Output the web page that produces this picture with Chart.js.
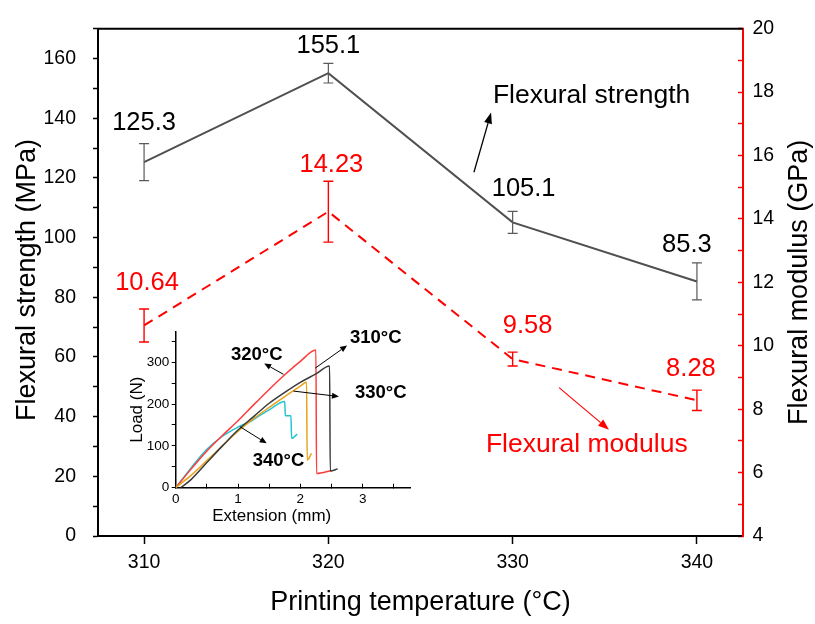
<!DOCTYPE html>
<html>
<head>
<meta charset="utf-8">
<script src="https://cdn.jsdelivr.net/npm/chart.js@4.4.1/dist/chart.umd.min.js"></script>
<style>
  html, body { margin: 0; padding: 0; background: #fff; }
  #wrap { position: relative; width: 815px; height: 624px; }
  #mainChart { position: absolute; left: 0; top: 0; }
  #insetChart { position: absolute; left: 120px; top: 320px; }
</style>
</head>
<body>
<div id="wrap">
  <canvas id="mainChart" width="815" height="624"></canvas>
  <canvas id="insetChart" width="300" height="215"></canvas>
</div>
<script>
// main chart data
const temps = [310, 320, 330, 340];
const strength = [125.3, 155.1, 105.1, 85.3];
const strengthErr = [6.2, 3.3, 3.7, 6.2];
const modulus = [10.64, 14.23, 9.58, 8.28];
const modulusErr = [0.52, 0.96, 0.22, 0.32];

// inset: load-extension curves
const ext310 = [0.08, 0.25, 0.5, 0.75, 1.0, 1.25, 1.5, 1.75, 2.0, 2.25, 2.47, 2.48, 2.6];
const load310 = [0, 20, 60, 100, 138, 170, 202, 228, 252, 272, 291, 40, 45];
const ext320 = [0, 0.25, 0.5, 0.75, 1.0, 1.25, 1.5, 1.75, 2.0, 2.25, 2.26, 2.5];
const load320 = [0, 45, 88, 125, 160, 198, 235, 270, 302, 329, 34, 41];
const ext330 = [0, 0.25, 0.5, 0.75, 1.0, 1.25, 1.5, 1.75, 2.0, 2.1, 2.11, 2.18];
const load330 = [0, 30, 65, 100, 135, 165, 192, 218, 243, 252, 66, 82];
const ext340 = [0, 0.25, 0.5, 0.75, 1.0, 1.1, 1.2, 1.3, 1.5, 1.75, 1.76, 1.85, 1.86, 1.95];
const load340 = [0, 48, 92, 123, 145, 152, 158, 168, 186, 206, 172, 172, 118, 128];

const FONT = "'Liberation Sans', Arial, sans-serif";
Chart.defaults.font.family = FONT;
Chart.defaults.color = '#000';

const zip = (xs, ys) => xs.map((x, i) => ({ x: x, y: ys[i] }));

function drawArrow(ctx, x1, y1, x2, y2, color, width, headLen, headW) {
  const ang = Math.atan2(y2 - y1, x2 - x1);
  const bx = x2 - headLen * Math.cos(ang);
  const by = y2 - headLen * Math.sin(ang);
  ctx.save();
  ctx.strokeStyle = color;
  ctx.fillStyle = color;
  ctx.lineWidth = width;
  ctx.beginPath();
  ctx.moveTo(x1, y1);
  ctx.lineTo(bx, by);
  ctx.stroke();
  ctx.beginPath();
  ctx.moveTo(x2, y2);
  ctx.lineTo(bx + headW * Math.sin(ang), by - headW * Math.cos(ang));
  ctx.lineTo(bx - headW * Math.sin(ang), by + headW * Math.cos(ang));
  ctx.closePath();
  ctx.fill();
  ctx.restore();
}

// label offsets in px from each point (layout only)
const strengthLabelOffset = [[0, -39], [0, -27], [11, -33], [-10, -36]];
const modulusLabelOffset = [[3, -43], [3, -47], [15, -33], [-6, -31]];

const mainDecor = {
  id: 'mainDecor',
  afterDatasetsDraw(chart) {
    const ctx = chart.ctx;
    const xs = chart.scales.x;
    function errorBars(values, errs, axis, color, lw) {
      const ys = chart.scales[axis];
      ctx.save();
      ctx.strokeStyle = color;
      ctx.lineWidth = lw;
      temps.forEach((t, i) => {
        const px = xs.getPixelForValue(t);
        const top = ys.getPixelForValue(values[i] + errs[i]);
        const bot = ys.getPixelForValue(values[i] - errs[i]);
        ctx.beginPath();
        ctx.moveTo(px, top); ctx.lineTo(px, bot);
        ctx.moveTo(px - 5, top); ctx.lineTo(px + 5, top);
        ctx.moveTo(px - 5, bot); ctx.lineTo(px + 5, bot);
        ctx.stroke();
      });
      ctx.restore();
    }
    errorBars(strength, strengthErr, 'y', '#5a5a5a', 1.2);
    errorBars(modulus, modulusErr, 'y1', '#ff0000', 1.4);

    function labels(values, axis, offs, color) {
      const ys = chart.scales[axis];
      ctx.save();
      ctx.font = '25.5px ' + FONT;
      ctx.fillStyle = color;
      ctx.textAlign = 'center';
      ctx.textBaseline = 'middle';
      temps.forEach((t, i) => {
        ctx.fillText(values[i].toString(), xs.getPixelForValue(t) + offs[i][0],
          ys.getPixelForValue(parseFloat(values[i])) + offs[i][1]);
      });
      ctx.restore();
    }
    labels(strength, 'y', strengthLabelOffset, '#000');
    labels(modulus.map(v => v.toFixed(2)), 'y1', modulusLabelOffset, '#ff0000');
  },
  afterDraw(chart) {
    const ctx = chart.ctx;
    const a = chart.chartArea;
    const xs = chart.scales.x, ys = chart.scales.y;
    ctx.save();
    ctx.strokeStyle = '#000';
    ctx.lineWidth = 2;
    ctx.beginPath();
    ctx.moveTo(a.left - 1, a.top);
    ctx.lineTo(a.right, a.top);
    ctx.stroke();

    // axis titles
    ctx.font = '27px ' + FONT;
    ctx.fillStyle = '#000';
    ctx.textAlign = 'center';
    ctx.textBaseline = 'middle';
    ctx.fillText('Printing temperature (°C)', (a.left + a.right) / 2, 603);
    ctx.save();
    ctx.translate(27.5, 280);
    ctx.rotate(-Math.PI / 2);
    ctx.fillText('Flexural strength (MPa)', 0, 0);
    ctx.restore();
    ctx.save();
    ctx.translate(800, (a.top + a.bottom) / 2);
    ctx.rotate(-Math.PI / 2);
    ctx.fillText('Flexural modulus (GPa)', 0, 0);
    ctx.restore();

    // annotations
    ctx.font = '26.5px ' + FONT;
    ctx.textAlign = 'left';
    ctx.fillStyle = '#000';
    ctx.fillText('Flexural strength', xs.getPixelForValue(328.93), ys.getPixelForValue(147.4));
    ctx.fillStyle = '#ff0000';
    ctx.fillText('Flexural modulus', xs.getPixelForValue(328.55), ys.getPixelForValue(30.7));
    ctx.restore();

    drawArrow(ctx, xs.getPixelForValue(327.9), ys.getPixelForValue(121.9),
      xs.getPixelForValue(328.83), ys.getPixelForValue(141.9), '#000', 1.3, 11, 4);
    drawArrow(ctx, xs.getPixelForValue(332.52), ys.getPixelForValue(49.7),
      xs.getPixelForValue(335.23), ys.getPixelForValue(35.6), '#ff0000', 1.1, 11, 4);
  }
};

new Chart(document.getElementById('mainChart').getContext('2d'), {
  type: 'line',
  data: {
    datasets: [
      {
        label: 'Flexural strength',
        data: zip(temps, strength),
        yAxisID: 'y',
        borderColor: '#505050',
        borderWidth: 2,
        pointRadius: 0,
        tension: 0
      },
      {
        label: 'Flexural modulus',
        data: zip(temps, modulus),
        yAxisID: 'y1',
        borderColor: '#ff0000',
        borderWidth: 2,
        borderDash: [10, 7],
        pointRadius: 0,
        tension: 0
      }
    ]
  },
  options: {
    responsive: false,
    animation: false,
    layout: { padding: { top: 16, left: 0, right: 0, bottom: 0 } },
    plugins: { legend: { display: false }, tooltip: { enabled: false } },
    scales: {
      x: {
        type: 'linear',
        min: 307.5,
        max: 342.5,
        ticks: { stepSize: 10, includeBounds: false, autoSkip: false, font: { size: 19.5 }, color: '#000', padding: 7, maxRotation: 0 },
        grid: { drawOnChartArea: false, tickLength: 8, tickColor: '#000', tickWidth: 1.5 },
        border: { color: '#000', width: 2 },
        afterFit(s) { s.height = 88; }
      },
      y: {
        position: 'left',
        min: 0,
        max: 170,
        ticks: { stepSize: 10, includeBounds: false, autoSkip: false, font: { size: 19.5 }, color: '#000', padding: 17,
          callback: v => (v % 20 === 0 ? v : '') },
        grid: { drawOnChartArea: false, tickLength: 5, tickColor: '#000', tickWidth: 1.5 },
        border: { color: '#000', width: 2 },
        afterFit(s) { s.width = 98; }
      },
      y1: {
        position: 'right',
        min: 4,
        max: 20,
        ticks: { stepSize: 1, includeBounds: false, autoSkip: false, font: { size: 19.5 }, color: '#000', padding: 14.5,
          callback: v => (v % 2 === 0 ? v : '') },
        grid: { drawOnChartArea: false, tickLength: -5, tickColor: '#ff0000', tickWidth: 1.5 },
        border: { color: '#ff0000', width: 2 },
        afterFit(s) { s.width = 72; }
      }
    }
  },
  plugins: [mainDecor]
});

// inset chart
const insetDecor = {
  id: 'insetDecor',
  afterDraw(chart) {
    const ctx = chart.ctx;
    const xs = chart.scales.x, ys = chart.scales.y;
    ctx.save();
    ctx.fillStyle = '#000';
    ctx.textAlign = 'center';
    ctx.textBaseline = 'middle';
    ctx.font = '17px ' + FONT;
    ctx.fillText('Extension (mm)', 151.7, 196);
    ctx.save();
    ctx.translate(17.5, (chart.chartArea.top + chart.chartArea.bottom) / 2);
    ctx.rotate(-Math.PI / 2);
    ctx.fillText('Load (N)', 0, 0);
    ctx.restore();

    ctx.font = 'bold 18.5px ' + FONT;
    ctx.fillText('320°C', xs.getPixelForValue(1.30), ys.getPixelForValue(317));
    ctx.fillText('310°C', xs.getPixelForValue(3.21), ys.getPixelForValue(357));
    ctx.fillText('330°C', xs.getPixelForValue(3.29), ys.getPixelForValue(226));
    ctx.fillText('340°C', xs.getPixelForValue(1.65), ys.getPixelForValue(64));
    ctx.restore();

    const arrows = [
      [1.73, 271, 1.42, 297],
      [2.24, 286, 2.75, 340],
      [1.89, 231, 2.62, 218],
      [1.03, 146, 1.46, 106]
    ];
    arrows.forEach(a => {
      drawArrow(ctx, xs.getPixelForValue(a[0]), ys.getPixelForValue(a[1]),
        xs.getPixelForValue(a[2]), ys.getPixelForValue(a[3]), '#000', 1, 7, 3);
    });
  }
};

function curve(label, xs, ys, color) {
  return {
    label: label,
    data: zip(xs, ys),
    borderColor: color,
    borderWidth: 1.5,
    pointRadius: 0,
    cubicInterpolationMode: 'monotone'
  };
}

new Chart(document.getElementById('insetChart').getContext('2d'), {
  type: 'line',
  data: {
    datasets: [
      curve('310°C', ext310, load310, '#3a3a3a'),
      curve('330°C', ext330, load330, '#e8a317'),
      curve('320°C', ext320, load320, '#ff3b3b'),
      curve('340°C', ext340, load340, '#22c3d3')
    ]
  },
  options: {
    responsive: false,
    animation: false,
    layout: { padding: { top: 11.7, right: 10, left: 0, bottom: 0 } },
    plugins: { legend: { display: false }, tooltip: { enabled: false } },
    scales: {
      x: {
        type: 'linear',
        min: 0,
        max: 3.76,
        ticks: { stepSize: 0.5, includeBounds: false, autoSkip: false, font: { size: 13.5 }, color: '#000', padding: 7, maxRotation: 0,
          callback: v => (Number.isInteger(v) ? v : '') },
        grid: { drawOnChartArea: false, tickLength: -4, tickColor: '#000', tickWidth: 1 },
        border: { color: '#000', width: 1.5 },
        afterFit(s) { s.height = 47.3; }
      },
      y: {
        min: 0,
        max: 373,
        ticks: { stepSize: 50, includeBounds: false, autoSkip: false, font: { size: 13.5 }, color: '#000', padding: 2.4,
          callback: v => (v % 100 === 0 ? v : '') },
        grid: { drawOnChartArea: false, tickLength: 4, tickColor: '#000', tickWidth: 1 },
        border: { color: '#000', width: 1.5 },
        afterFit(s) { s.width = 55.7; }
      }
    }
  },
  plugins: [insetDecor]
});
</script>
</body>
</html>
